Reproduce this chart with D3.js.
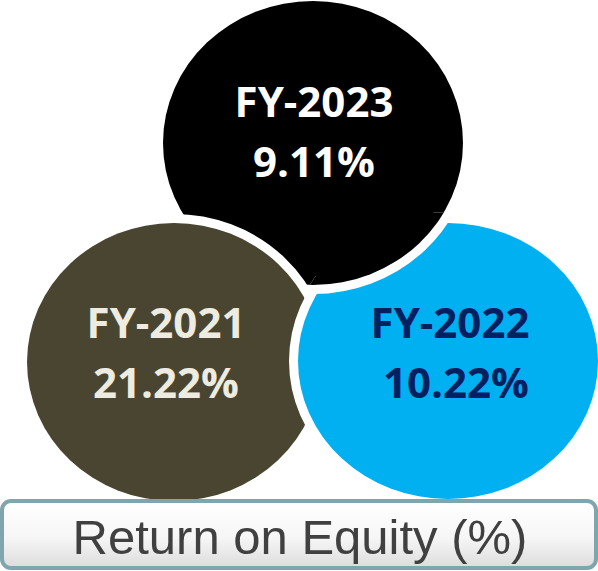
<!DOCTYPE html>
<html>
<head>
<meta charset="utf-8">
<script src="https://cdn.jsdelivr.net/npm/d3@7"></script>
<style>
  body { margin: 0; background: #fff; }
  svg { display: block; }
</style>
</head>
<body>
<svg id="chart" width="598" height="571"></svg>
<script>
// data
var years = ["FY-2023", "FY-2021", "FY-2022"];
var roeValues = [9.11, 21.22, 10.22];
var title = "Return on Equity (%)";

var W = 598, H = 571;
var svg = d3.select("#chart");

// bubble layout (top, left, right)
var slots = [
  {cx: 313, cy: 143, rx: 150, ry: 142, fill: "#000000", text: "#ffffff", dx: [1, 1]},
  {cx: 174, cy: 362, rx: 147, ry: 139, fill: "#4a4530", text: "#eeece1", dx: [-8, -8]},
  {cx: 448, cy: 361, rx: 150, ry: 138, fill: "#00b0f0", text: "#002060", dx: [2, 8]}
];
var halo = 9;

var bubbles = years.map(function (y, i) {
  return Object.assign({year: y, value: roeValues[i]}, slots[i]);
});

var fmt = d3.format(".2f");

var defs = svg.append("defs");
var grad = defs.append("linearGradient").attr("id", "boxGrad")
  .attr("x1", 0).attr("y1", 0).attr("x2", 0).attr("y2", 1);
grad.append("stop").attr("offset", "0%").attr("stop-color", "#ffffff");
grad.append("stop").attr("offset", "55%").attr("stop-color", "#f6f6f6");
grad.append("stop").attr("offset", "100%").attr("stop-color", "#dcdcdc");

// clip for the part of the top bubble that sits over the right bubble
defs.append("clipPath").attr("id", "overBlue")
  .append("ellipse")
  .attr("cx", bubbles[2].cx).attr("cy", bubbles[2].cy)
  .attr("rx", bubbles[2].rx + halo + 2).attr("ry", bubbles[2].ry + halo + 2);

// one ellipse, white halo painted first as a wide stroke
function drawBubble(g, d) {
  g.append("ellipse")
    .attr("cx", d.cx).attr("cy", d.cy)
    .attr("rx", d.rx).attr("ry", d.ry)
    .attr("fill", d.fill)
    .attr("stroke", "#ffffff")
    .attr("stroke-width", halo * 2)
    .style("paint-order", "stroke");
}

var layer = svg.append("g");
bubbles.forEach(function (d) { drawBubble(layer.append("g"), d); });
// top bubble goes over the right one (cyclic stacking)
drawBubble(svg.append("g").attr("clip-path", "url(#overBlue)"), bubbles[0]);

// labels
var labels = svg.append("g")
  .attr("font-family", "'Open Sans', 'Noto Sans', sans-serif")
  .attr("font-weight", "bold")
  .attr("font-size", 42)
  .attr("text-anchor", "middle");

bubbles.forEach(function (d, i) {
  var ty = i === 0 ? 117 : 338;
  labels.append("text")
    .attr("x", d.cx + d.dx[0])
    .attr("y", ty)
    .attr("fill", d.text)
    .text(d.year);
  labels.append("text")
    .attr("x", d.cx + d.dx[1])
    .attr("y", ty + 60)
    .attr("fill", d.text)
    .text(fmt(d.value) + "%");
});

// title box
svg.append("rect")
  .attr("x", 2).attr("y", 501)
  .attr("width", W - 4).attr("height", 67)
  .attr("rx", 9).attr("ry", 9)
  .attr("fill", "url(#boxGrad)")
  .attr("stroke", "#7fa6ac")
  .attr("stroke-width", 4);

svg.append("text")
  .attr("x", 300).attr("y", 554)
  .attr("text-anchor", "middle")
  .attr("font-family", "'Liberation Sans', Arial, sans-serif")
  .attr("font-size", 49)
  .attr("fill", "#404040")
  .text(title);
</script>
</body>
</html>
